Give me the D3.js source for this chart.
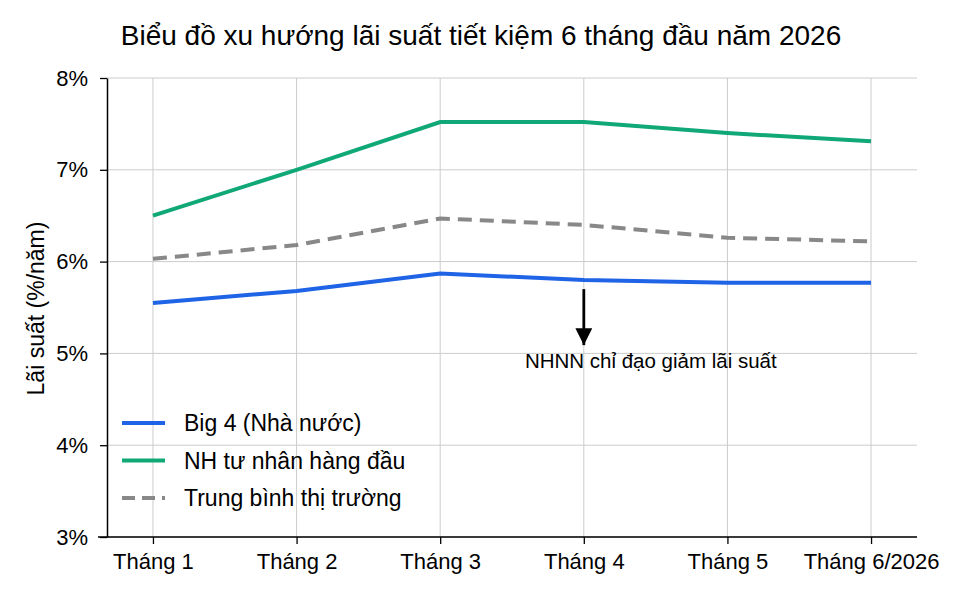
<!DOCTYPE html>
<html>
<head>
<meta charset="utf-8">
<script src="https://cdn.jsdelivr.net/npm/d3@7"></script>
<style>
  body { margin: 0; background: #fff; }
  text { font-family: "Liberation Sans", Arial, sans-serif; }
</style>
</head>
<body>
<svg id="chart" width="960" height="597"></svg>
<script>
const months = ["Tháng 1", "Tháng 2", "Tháng 3", "Tháng 4", "Tháng 5", "Tháng 6/2026"];
const big4 = [5.55, 5.68, 5.87, 5.80, 5.77, 5.77];
const privateBanks = [6.50, 7.00, 7.52, 7.52, 7.40, 7.31];
const marketAvg = [6.03, 6.18, 6.47, 6.40, 6.26, 6.22];
const yTicks = [3, 4, 5, 6, 7, 8];
const seriesNames = ["Big 4 (Nhà nước)", "NH tư nhân hàng đầu", "Trung bình thị trường"];
const annotation = { month: "Tháng 4", text: "NHNN chỉ đạo giảm lãi suất" };

const series = [
  { name: seriesNames[0], values: big4, color: "#1f63e6", dash: null },
  { name: seriesNames[1], values: privateBanks, color: "#10a877", dash: null },
  { name: seriesNames[2], values: marketAvg, color: "#888888", dash: "14,8" },
];

const svg = d3.select("#chart");
const margin = { top: 78, right: 43, bottom: 60, left: 107 };
const width = 960 - margin.left - margin.right;
const height = 597 - margin.top - margin.bottom;

svg.append("text")
  .attr("x", 481)
  .attr("y", 45)
  .attr("text-anchor", "middle")
  .style("font-size", "28px")
  .text("Biểu đồ xu hướng lãi suất tiết kiệm 6 tháng đầu năm 2026");

const chart = svg.append("g")
  .attr("transform", `translate(${margin.left}, ${margin.top})`);

const x = d3.scalePoint()
  .domain(months)
  .range([0, width])
  .padding(0.32);

const y = d3.scaleLinear()
  .domain([3, 8])
  .range([height, 0]);

// grid
chart.append("g")
  .selectAll("line")
  .data(yTicks)
  .enter()
  .append("line")
  .attr("x1", 0)
  .attr("x2", width)
  .attr("y1", d => y(d))
  .attr("y2", d => y(d))
  .attr("stroke", "#cccccc")
  .attr("stroke-width", 1);

chart.append("g")
  .selectAll("line")
  .data(months)
  .enter()
  .append("line")
  .attr("x1", d => x(d))
  .attr("x2", d => x(d))
  .attr("y1", 0)
  .attr("y2", height)
  .attr("stroke", "#cccccc")
  .attr("stroke-width", 1);

// axes
const xAxis = chart.append("g")
  .attr("transform", `translate(0, ${height})`)
  .call(d3.axisBottom(x).tickSize(7).tickSizeOuter(0).tickPadding(9));
// bottom spine runs a little past the left axis
xAxis.select(".domain")
  .attr("d", `M-9,0H${width}`)
  .attr("stroke", "#000")
  .attr("stroke-width", 1.5);
xAxis.selectAll(".tick line").attr("stroke-width", 1.3);
xAxis.selectAll("text").style("font-size", "22px").attr("fill", "#000");

const yAxis = chart.append("g")
  .call(d3.axisLeft(y).tickValues(yTicks).tickFormat(d => d + "%").tickSize(7).tickSizeOuter(0).tickPadding(12));
yAxis.select(".domain").attr("stroke", "#000").attr("stroke-width", 1.5);
yAxis.selectAll(".tick line").attr("stroke-width", 1.3);
yAxis.selectAll("text").style("font-size", "22px").attr("fill", "#000");

svg.append("text")
  .attr("transform", `translate(44, ${margin.top + height / 2 + 1}) rotate(-90)`)
  .attr("text-anchor", "middle")
  .style("font-size", "23px")
  .text("Lãi suất (%/năm)");

// lines
const line = d3.line()
  .x((d, i) => x(months[i]))
  .y(d => y(d));

chart.selectAll(".series")
  .data(series)
  .enter()
  .append("path")
  .attr("class", "series")
  .attr("d", d => line(d.values))
  .attr("fill", "none")
  .attr("stroke", d => d.color)
  .attr("stroke-width", 4)
  .attr("stroke-dasharray", d => d.dash);

// annotation arrow
const defs = svg.append("defs");
defs.append("marker")
  .attr("id", "arrow")
  .attr("viewBox", "0 0 10 10")
  .attr("refX", 10)
  .attr("refY", 5)
  .attr("markerWidth", 6)
  .attr("markerHeight", 6)
  .attr("markerUnits", "strokeWidth")
  .attr("orient", "auto")
  .append("path")
  .attr("d", "M0,0 L10,5 L0,10 Z")
  .attr("fill", "#000");

const ax = x(annotation.month);
chart.append("line")
  .attr("x1", ax)
  .attr("x2", ax)
  .attr("y1", y(5.7))
  .attr("y2", y(5.09))
  .attr("stroke", "#000")
  .attr("stroke-width", 2.8)
  .attr("marker-end", "url(#arrow)");

chart.append("text")
  .attr("x", ax + 67)
  .attr("y", y(5) + 15)
  .attr("text-anchor", "middle")
  .style("font-size", "20.5px")
  .text(annotation.text);

// legend
const legend = chart.append("g")
  .attr("transform", "translate(15, 345)");
const rows = legend.selectAll("g")
  .data(series)
  .enter()
  .append("g")
  .attr("transform", (d, i) => `translate(0, ${i * 37.5})`);
rows.append("line")
  .attr("x1", 0)
  .attr("x2", 43)
  .attr("stroke", d => d.color)
  .attr("stroke-width", 4)
  .attr("stroke-dasharray", d => d.dash ? "13,7" : null);
rows.append("text")
  .attr("x", 62)
  .attr("dy", "0.35em")
  .style("font-size", "23px")
  .text(d => d.name);
</script>
</body>
</html>
